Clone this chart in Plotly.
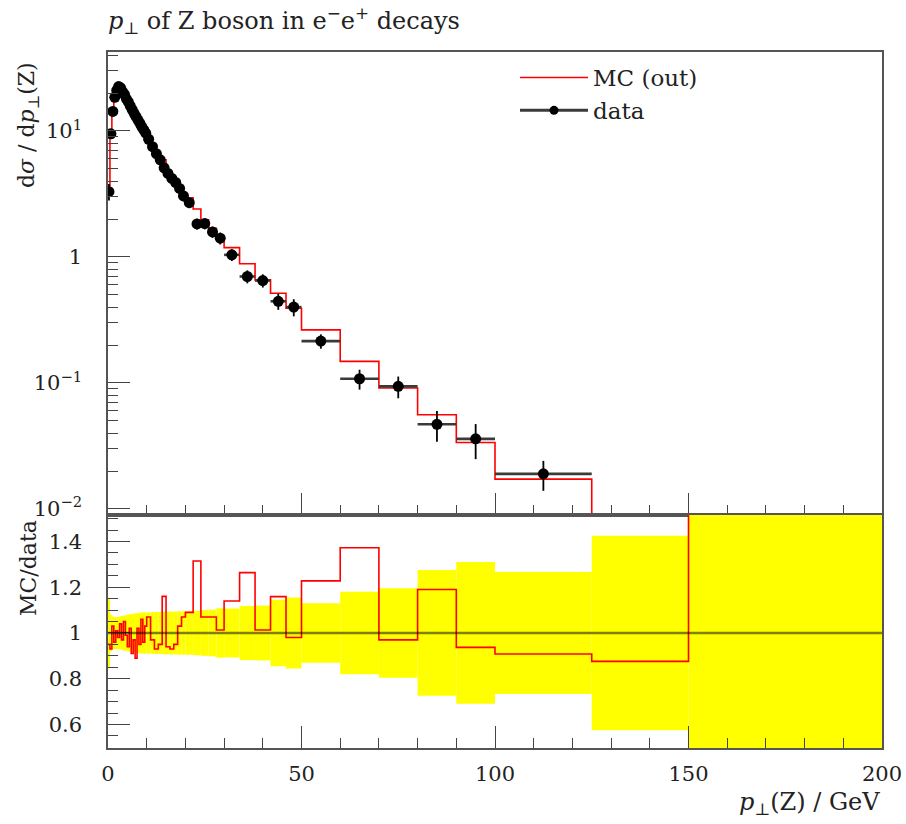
import numpy as np
import plotly.graph_objects as go

# ---- data -------------------------------------------------------------
bin_edges = [0, 0.5, 1, 1.5, 2, 2.5, 3, 3.5, 4, 4.5, 5, 5.5, 6, 6.5, 7, 7.5, 8, 8.5, 9, 9.5, 10,
             11, 12, 13, 14, 15, 16, 17, 18, 19, 20,
             22, 24, 26, 28, 30,
             34, 38, 42, 46, 50,
             60, 70, 80, 90, 100,
             125, 150, 200]

data_values = [3.3, 9.5, 14.3, 18.5, 21.0, 22.5, 22.0, 20.5, 19.5, 18.0,
               17.0, 15.8, 14.8, 13.8, 13.0, 12.2, 11.5, 10.8, 10.2, 9.6,
               8.6, 7.5, 6.6, 5.9, 5.1, 4.6, 4.2, 3.9, 3.5, 3.05,
               2.7, 1.83, 1.84, 1.58, 1.41,
               1.04, 0.70, 0.65, 0.445, 0.40,
               0.215, 0.108, 0.094, 0.047, 0.036,
               0.0190, 0.0050, 0.0008]

data_rel_err = [0.15, 0.08, 0.072, 0.07, 0.07, 0.07, 0.072, 0.074, 0.076, 0.078,
                0.08, 0.082, 0.084, 0.085, 0.086, 0.087, 0.088, 0.089, 0.09, 0.09,
                0.09, 0.091, 0.092, 0.092, 0.093, 0.093, 0.094, 0.094, 0.095, 0.095,
                0.095, 0.097, 0.10, 0.102, 0.108,
                0.107, 0.118, 0.12, 0.145, 0.155,
                0.13, 0.18, 0.196, 0.275, 0.31,
                0.267, 0.425, 0.8]

mc_ratio = [0.95, 0.93, 1.03, 0.96, 1.01, 0.98, 1.04, 0.97, 1.05, 0.99,
            0.94, 1.02, 0.91, 0.97, 0.89, 1.02, 0.95, 1.06, 0.96, 1.03,
            1.07, 0.97, 0.93, 0.95, 1.16, 0.94, 0.93, 0.95, 1.03, 1.07,
            1.09, 1.315, 1.07, 1.07, 1.013,
            1.14, 1.264, 1.013, 1.159, 0.98,
            1.228, 1.373, 0.97, 1.19, 0.937,
            0.908, 0.876, 2.0]

y_tick_vals = [0.01, 0.1, 1, 10]
y_tick_text = ["10<sup>−2</sup>", "10<sup>−1</sup>", "1", "10<sup>1</sup>"]
r_tick_vals = [0.6, 0.8, 1.0, 1.2, 1.4]
r_tick_text = ["0.6", "0.8", "1", "1.2", "1.4"]

# ---- derived ------------------------------------------------------------
edges = np.array(bin_edges)
centers = 0.5 * (edges[:-1] + edges[1:])
half_w = 0.5 * (edges[1:] - edges[:-1])
vals = np.array(data_values)
rel = np.array(data_rel_err)
ratio = np.array(mc_ratio)
mc_values = vals * ratio

FONT = "DejaVu Serif"
TXT = "#222222"
RED = "#ff0000"

fig = go.Figure()

# MC step line (top)
fig.add_trace(go.Scatter(
    x=list(edges), y=list(mc_values) + [mc_values[-1]],
    mode="lines", line=dict(color=RED, width=1.6, shape="hv"),
    name="MC (out)", xaxis="x", yaxis="y", showlegend=True))

# data points (top)
fig.add_trace(go.Scatter(
    x=centers, y=vals, mode="markers",
    marker=dict(color="black", size=11),
    error_x=dict(type="data", array=half_w, arrayminus=half_w, color="#3a3a3a",
                 thickness=2.6, width=0),
    error_y=dict(type="data", array=vals * rel, arrayminus=vals * rel, color="black",
                 thickness=1.8, width=0),
    name="data", xaxis="x", yaxis="y", showlegend=False))

# legend-only entry for data
fig.add_trace(go.Scatter(
    x=[None], y=[None], mode="lines+markers",
    line=dict(color="#3a3a3a", width=3), marker=dict(color="black", size=9),
    name="data", xaxis="x", yaxis="y", showlegend=True))

# yellow error band (ratio)
fig.add_trace(go.Bar(
    x=centers, width=2 * half_w, base=1 - rel, y=2 * rel,
    marker=dict(color="#ffff00", line=dict(width=0)),
    xaxis="x2", yaxis="y2", showlegend=False, hoverinfo="skip"))

# MC/data ratio step
fig.add_trace(go.Scatter(
    x=list(edges), y=list(ratio) + [ratio[-1]],
    mode="lines", line=dict(color=RED, width=1.6, shape="hv"),
    xaxis="x2", yaxis="y2", showlegend=False))

split = (748 - 515) / 696.0

log_lo, log_hi = -2.048, 1.627
minor_log = [k * 10.0 ** e for e in range(-3, 2) for k in range(2, 10)
             if log_lo <= np.log10(k * 10.0 ** e) <= log_hi]

axis_common = dict(showgrid=False, zeroline=False, showline=True, linecolor="#555555",
                   linewidth=1.5, mirror=True, ticks="inside", tickcolor="#444444",
                   tickwidth=1.2, automargin=False)

W, H = 906, 824

fig.update_layout(
    width=W, height=H,
    margin=dict(l=108, r=24, t=52, b=76, autoexpand=False),
    paper_bgcolor="white", plot_bgcolor="white",
    font=dict(family=FONT, size=20, color=TXT),
    barmode="overlay",
    title=dict(text="<i>p</i><sub>⊥</sub> of Z boson in e<sup>−</sup>e<sup>+</sup> decays",
               x=108 / W, xanchor="left", y=1 - 21 / H, yanchor="middle",
               font=dict(family=FONT, size=24, color=TXT)),
    xaxis=dict(domain=[0, 1], anchor="y", range=[0, 200], showticklabels=False,
               dtick=50, tick0=0, ticklen=22,
               minor=dict(dtick=10, tick0=0, ticklen=10, ticks="inside", tickcolor="#444444"),
               **axis_common),
    yaxis=dict(domain=[split, 1], anchor="x", type="log", range=[log_lo, log_hi],
               tickmode="array", tickvals=y_tick_vals, ticktext=y_tick_text, ticklen=22,
               minor=dict(tickvals=minor_log, ticklen=10, ticks="inside", tickcolor="#444444"),
               tickfont=dict(size=21), ticklabelstandoff=20,
               **axis_common),
    xaxis2=dict(domain=[0, 1], anchor="y2", range=[0, 200], dtick=50, tick0=0, ticklen=22,
                minor=dict(dtick=10, tick0=0, ticklen=10, ticks="inside", tickcolor="#444444"),
                tickfont=dict(size=21), ticklabelstandoff=6,
                **axis_common),
    yaxis2=dict(domain=[0, split], anchor="x2", range=[0.497, 1.516],
                tickmode="array", tickvals=r_tick_vals, ticktext=r_tick_text, ticklen=22,
                minor=dict(dtick=0.05, tick0=0, ticklen=10, ticks="inside", tickcolor="#444444"),
                tickfont=dict(size=21), ticklabelstandoff=20,
                **axis_common),
    legend=dict(x=(515 - 108) / 774, y=1 - 4 / 696, xanchor="left", yanchor="top",
                bgcolor="rgba(0,0,0,0)", font=dict(family=FONT, size=23, color=TXT),
                itemwidth=68),
    shapes=[dict(type="line", xref="x2 domain", x0=0, x1=1, yref="y2", y0=1, y1=1,
                 line=dict(color="rgba(0,0,0,0.5)", width=2.6))],
    annotations=[
        dict(text="d<i>σ</i> / d<i>p</i><sub>⊥</sub>(Z)", xref="paper", yref="paper",
             x=(28 - 108) / 774, y=1 - 8 / 696, xanchor="center", yanchor="top",
             textangle=-90, showarrow=False, font=dict(family=FONT, size=22, color=TXT)),
        dict(text="MC/data", xref="paper", yref="paper",
             x=(28 - 108) / 774, y=(748 - 518) / 696, xanchor="center", yanchor="top",
             textangle=-90, showarrow=False, font=dict(family=FONT, size=22, color=TXT)),
        dict(text="<i>p</i><sub>⊥</sub>(Z) / GeV", xref="paper", yref="paper",
             x=1, y=-(803 - 748) / 696, xanchor="right", yanchor="middle",
             showarrow=False, font=dict(family=FONT, size=24, color=TXT)),
    ],
)

# remove the default 8px page margin so the figure sits at the window origin
fig.write_html("out.html", config={"displayModeBar": False},
               post_script="document.body.style.margin='0';document.body.style.overflow='hidden';")
